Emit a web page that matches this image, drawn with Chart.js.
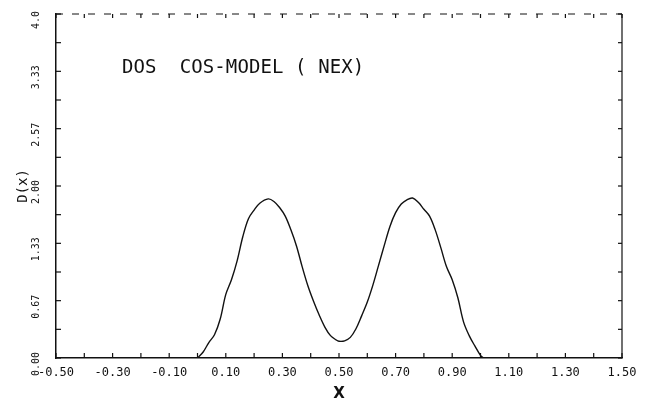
<!DOCTYPE html>
<html>
<head>
<meta charset="utf-8">
<script src="https://cdn.jsdelivr.net/npm/chart.js@4"></script>
<style>
  body { margin: 0; background: #fff; }
  #wrap { position: relative; width: 654px; height: 407px; }
  #label {
    position: absolute; left: 122px; top: 55px;
    font-family: "DejaVu Sans Mono", monospace; font-size: 19px;
    color: #111; white-space: pre; letter-spacing: 0.1px;
  }
</style>
</head>
<body>
<div id="wrap">
  <canvas id="chart" width="654" height="407"></canvas>
  <div id="label">DOS  COS-MODEL ( NEX)</div>
</div>
<script>
// D(x)
const xVals = [0.00, 0.02, 0.04, 0.06, 0.08, 0.10, 0.12, 0.14, 0.16, 0.18, 0.20, 0.22, 0.25, 0.27, 0.29, 0.31, 0.33, 0.35, 0.37, 0.39, 0.41, 0.43, 0.45, 0.47, 0.49, 0.50, 0.52, 0.54, 0.56, 0.58, 0.60, 0.62, 0.64, 0.66, 0.68, 0.70, 0.72, 0.74, 0.76, 0.78, 0.80, 0.82, 0.84, 0.86, 0.88, 0.90, 0.92, 0.94, 0.96, 0.98, 1.00, 1.01];
const dVals = [0.00, 0.07, 0.18, 0.27, 0.45, 0.74, 0.91, 1.13, 1.41, 1.62, 1.72, 1.80, 1.85, 1.82, 1.75, 1.65, 1.49, 1.30, 1.06, 0.84, 0.66, 0.50, 0.36, 0.26, 0.21, 0.195, 0.20, 0.24, 0.34, 0.49, 0.65, 0.85, 1.08, 1.31, 1.53, 1.69, 1.79, 1.84, 1.86, 1.81, 1.73, 1.65, 1.49, 1.28, 1.06, 0.91, 0.70, 0.42, 0.26, 0.14, 0.03, 0.00];

const xLabelValues = [-0.5, -0.3, -0.1, 0.1, 0.3, 0.5, 0.7, 0.9, 1.1, 1.3, 1.5];
const xTickLabels = ["-0.50", "-0.30", "-0.10", "0.10", "0.30", "0.50", "0.70", "0.90", "1.10", "1.30", "1.50"];
const yLabelValues = [0, 2 / 3, 4 / 3, 2, 8 / 3, 10 / 3, 4];
const yTickLabels = ["0.00", "0.67", "1.33", "2.00", "2.57", "3.33", "4.0"];
// small tick marks drawn inside the frame
const xMarks = [-0.5, -0.4, -0.3, -0.2, -0.1, 0, 0.1, 0.2, 0.3, 0.4, 0.5, 0.6, 0.7, 0.8, 0.9, 1.0, 1.1, 1.2, 1.3, 1.4, 1.5];
const yMarks = [0, 1 / 3, 2 / 3, 1, 4 / 3, 5 / 3, 2, 7 / 3, 8 / 3, 3, 10 / 3, 11 / 3, 4];

const frame = {
  id: "frame",
  afterDraw(chart) {
    const { ctx, chartArea: a, scales: { x, y } } = chart;
    ctx.save();
    ctx.strokeStyle = "#111";
    ctx.lineWidth = 1.2;
    const seg = (x1, y1, x2, y2) => {
      ctx.beginPath(); ctx.moveTo(x1, y1); ctx.lineTo(x2, y2); ctx.stroke();
    };
    xMarks.forEach(v => {
      const px = x.getPixelForValue(v);
      seg(px, a.bottom, px, a.bottom - 5);
      seg(px, a.top, px, a.top + 4);
    });
    yMarks.forEach(v => {
      const py = y.getPixelForValue(v);
      seg(a.left, py, a.left + 5, py);
      seg(a.right, py, a.right - 4, py);
    });
    // right edge
    seg(a.right, a.top, a.right, a.bottom);
    // top edge, faint and broken like the scan
    ctx.setLineDash([7, 9]);
    ctx.lineWidth = 1;
    seg(a.left, a.top, a.right, a.top);
    ctx.restore();
  }
};

const monoFont = "'DejaVu Sans Mono', monospace";

new Chart(document.getElementById("chart"), {
  type: "scatter",
  data: {
    datasets: [{
      data: xVals.map((v, i) => ({ x: v, y: dVals[i] })),
      showLine: true,
      borderColor: "#111",
      borderWidth: 1.4,
      pointRadius: 0,
      tension: 0.35
    }]
  },
  options: {
    responsive: false,
    animation: false,
    layout: { padding: { top: 10, right: 32, left: 0, bottom: 0 } },
    plugins: { legend: { display: false }, tooltip: { enabled: false } },
    scales: {
      x: {
        type: "linear",
        min: -0.5,
        max: 1.5,
        afterBuildTicks: s => { s.ticks = xLabelValues.map(v => ({ value: v })); },
        afterFit: s => { s.height = 49; },
        grid: { display: false, drawTicks: false },
        border: { color: "#111", width: 1.5 },
        ticks: {
          autoSkip: false,
          maxRotation: 0,
          padding: 8,
          color: "#111",
          font: { family: monoFont, size: 12 },
          callback: (v, i) => xTickLabels[i]
        },
        title: {
          display: true,
          text: "X",
          color: "#111",
          font: { family: "'DejaVu Sans', sans-serif", size: 15, weight: "bold" },
          padding: { top: 0, bottom: 4 }
        }
      },
      y: {
        min: 0,
        max: 4,
        afterBuildTicks: s => { s.ticks = yLabelValues.map(v => ({ value: v })); },
        afterFit: s => { s.width = 56; },
        grid: { display: false, drawTicks: false },
        border: { color: "#111", width: 1.5 },
        ticks: {
          autoSkip: false,
          minRotation: 90,
          maxRotation: 90,
          crossAlign: "center",
          labelOffset: 6,
          padding: 8,
          color: "#111",
          font: { family: monoFont, size: 10 },
          callback: (v, i) => yTickLabels[i]
        },
        title: {
          display: true,
          text: "D(x)",
          color: "#111",
          font: { family: monoFont, size: 14 },
          padding: { top: 15, bottom: 0 }
        }
      }
    }
  },
  plugins: [frame]
});
</script>
</body>
</html>
